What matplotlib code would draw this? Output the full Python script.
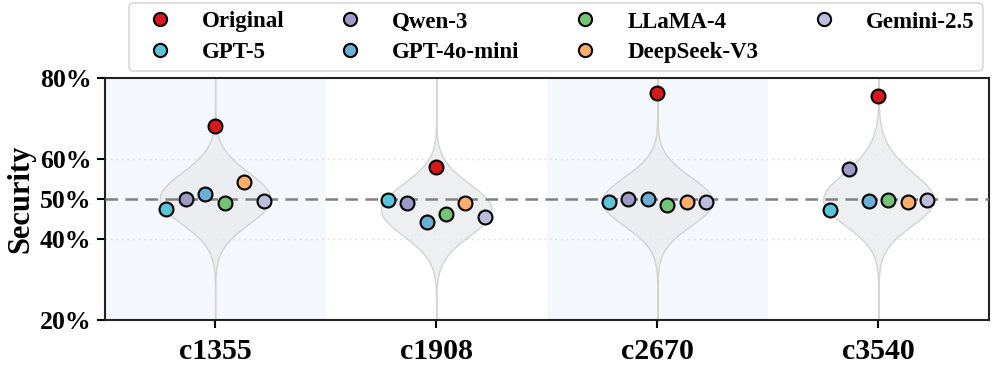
import numpy as np
import matplotlib
matplotlib.use("Agg")
import matplotlib.pyplot as plt
from matplotlib.lines import Line2D

plt.rcParams['font.family'] = ['Liberation Serif', 'DejaVu Serif']
plt.rcParams['font.weight'] = 'bold'

categories = ["c1355", "c1908", "c2670", "c3540"]
original = [68.0, 57.9, 76.2, 75.5]
models = ["GPT-5", "Qwen-3", "GPT-4o-mini", "LLaMA-4", "DeepSeek-V3", "Gemini-2.5"]
model_values = {
    "GPT-5":       [47.5, 49.7, 49.3, 47.3],
    "Qwen-3":      [50.1, 49.1, 50.1, 57.5],
    "GPT-4o-mini": [51.2, 44.3, 50.1, 49.6],
    "LLaMA-4":     [48.9, 46.3, 48.5, 49.7],
    "DeepSeek-V3": [54.2, 49.1, 49.3, 49.3],
    "Gemini-2.5":  [49.6, 45.5, 49.3, 49.8],
}
colors = {
    "Original": "#d7191c",
    "GPT-5": "#5bc4d9",
    "Qwen-3": "#9e9ac8",
    "GPT-4o-mini": "#6baed6",
    "LLaMA-4": "#74c476",
    "DeepSeek-V3": "#fdae6b",
    "Gemini-2.5": "#bcbddc",
}
yticks = [20, 40, 50, 60, 80]
ytick_labels = ["20%", "40%", "50%", "60%", "80%"]

fig = plt.figure(figsize=(9.96, 3.73), dpi=100)
ax = fig.add_axes([0.105, 0.142, 0.888, 0.649])

n = len(categories)
x = np.arange(n)
ax.set_xlim(-0.5, n - 0.5)
ax.set_ylim(20, 80)

# background bands
for i in range(n):
    if i % 2 == 0:
        ax.axvspan(i - 0.5, i + 0.5, color="#f4f7fb", zorder=0, lw=0)

# grid
for yv in [40, 60]:
    ax.axhline(yv, color="#d9d9d9", lw=1.0, ls=(0, (1, 3)), zorder=1)

# violins (KDE of model values)
yy = np.linspace(20, 80, 600)
bw = 6.0
for i in range(n):
    vals = np.array([model_values[m][i] for m in models])
    dens = np.exp(-0.5 * ((yy[:, None] - vals[None, :]) / bw) ** 2).sum(axis=1)
    dens = dens / dens.max() * 0.25
    ax.fill_betweenx(yy, i - dens, i + dens, facecolor="#e8eaed", alpha=0.75,
                     edgecolor="#c8c8c8", lw=1.0, zorder=2)

# 50% reference line
ax.axhline(50, color="#808080", lw=1.8, ls=(0, (5, 3)), zorder=3)

# points
offsets = np.linspace(-0.22, 0.22, len(models))
ms = 10
ax.plot(x, original, ls="none", marker="o", ms=ms, mfc=colors["Original"],
        mec="black", mew=1.5, zorder=5)
for j, m in enumerate(models):
    ax.plot(x + offsets[j], model_values[m], ls="none", marker="o", ms=ms,
            mfc=colors[m], mec="black", mew=1.5, zorder=5)

ax.set_xticks(x)
ax.set_xticklabels(categories, fontsize=21.5, fontweight="bold")
ax.set_yticks(yticks)
ax.set_yticklabels(ytick_labels, fontsize=18.5, fontweight="bold")
ax.set_ylabel("Security", fontsize=22, fontweight="bold", labelpad=3)
ax.tick_params(axis="both", direction="out", length=6, width=1.5)
ax.tick_params(axis="x", pad=7)
for s in ax.spines.values():
    s.set_linewidth(1.5)
    s.set_color("#222222")

# legend
order = ["Original", "GPT-5", "Qwen-3", "GPT-4o-mini", "LLaMA-4", "DeepSeek-V3", "Gemini-2.5"]
handles = [Line2D([], [], ls="none", marker="o", ms=9.5, mfc=colors[k], mec="black",
                  mew=1.5, label=k) for k in order]
leg = fig.legend(handles=handles, loc="upper center", bbox_to_anchor=(0.558, 1.0),
                 ncol=4, frameon=True, fancybox=True, prop={"size": 16.5, "weight": "bold"},
                 columnspacing=1.87, handletextpad=0.83, handlelength=2.0,
                 borderpad=0.35, labelspacing=0.4, borderaxespad=0.15)
leg.get_frame().set_edgecolor("#cccccc")
leg.get_frame().set_linewidth(1.2)

fig.savefig("out.png", dpi=100)
